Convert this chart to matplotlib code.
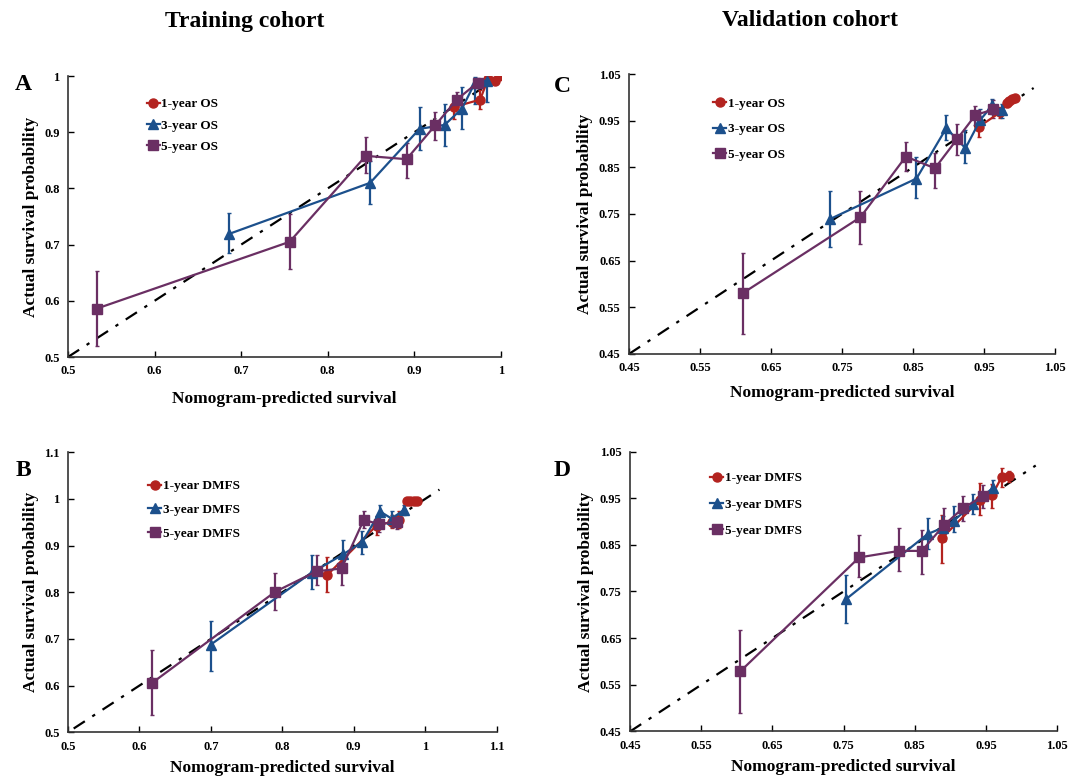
import matplotlib
matplotlib.use('Agg')
import matplotlib.pyplot as plt
import numpy as np

plt.rcParams['font.family'] = ['Liberation Serif', 'DejaVu Serif']
plt.rcParams['font.weight'] = 'bold'

RED = '#b3231f'
BLUE = '#1c508c'
PURPLE = '#6a2f63'

# ---- Panel A: training cohort, OS ----
a1_x = [0.946, 0.976, 0.985, 0.993, 0.998]
a1_y = [0.945, 0.958, 0.994, 0.992, 1.000]
a1_lo = [0.923, 0.941, 0.985, 0.985, 0.996]
a1_hi = [0.963, 0.976, 1.000, 0.998, 1.002]

a3_x = [0.686, 0.849, 0.906, 0.935, 0.955, 0.970, 0.984]
a3_y = [0.719, 0.810, 0.906, 0.913, 0.942, 0.988, 0.992]
a3_lo = [0.685, 0.773, 0.869, 0.875, 0.905, 0.950, 0.954]
a3_hi = [0.757, 0.849, 0.945, 0.951, 0.981, 0.998, 0.998]

a5_x = [0.533, 0.756, 0.844, 0.891, 0.924, 0.949, 0.973]
a5_y = [0.586, 0.705, 0.858, 0.852, 0.912, 0.958, 0.988]
a5_lo = [0.519, 0.656, 0.827, 0.819, 0.887, 0.945, 0.978]
a5_hi = [0.653, 0.754, 0.891, 0.880, 0.936, 0.972, 0.996]

# ---- Panel B: training cohort, DMFS ----
b1_x = [0.863, 0.932, 0.953, 0.964, 0.974, 0.979, 0.984, 0.989]
b1_y = [0.837, 0.943, 0.951, 0.954, 0.995, 0.995, 0.995, 0.995]
b1_lo = [0.800, 0.922, 0.937, 0.937, 0.990, 0.990, 0.990, 0.990]
b1_hi = [0.876, 0.963, 0.965, 0.974, 1.000, 1.000, 1.000, 1.000]

b3_x = [0.700, 0.841, 0.885, 0.912, 0.937, 0.953, 0.970]
b3_y = [0.688, 0.842, 0.881, 0.908, 0.973, 0.958, 0.976]
b3_lo = [0.631, 0.806, 0.850, 0.881, 0.955, 0.940, 0.965]
b3_hi = [0.739, 0.879, 0.913, 0.931, 0.987, 0.975, 0.987]

b5_x = [0.618, 0.790, 0.848, 0.883, 0.914, 0.936, 0.960]
b5_y = [0.606, 0.801, 0.845, 0.851, 0.955, 0.946, 0.951]
b5_lo = [0.537, 0.762, 0.815, 0.816, 0.937, 0.930, 0.936]
b5_hi = [0.677, 0.841, 0.879, 0.883, 0.974, 0.962, 0.966]

# ---- Panel C: validation cohort, OS ----
c1_x = [0.943, 0.973, 0.982, 0.986, 0.990, 0.994]
c1_y = [0.937, 0.968, 0.988, 0.992, 0.996, 0.999]
c1_lo = [0.915, 0.955, 0.980, 0.985, 0.990, 0.994]
c1_hi = [0.955, 0.980, 0.995, 0.998, 1.001, 1.003]

c3_x = [0.733, 0.855, 0.897, 0.924, 0.945, 0.962, 0.976]
c3_y = [0.739, 0.826, 0.934, 0.891, 0.952, 0.983, 0.972]
c3_lo = [0.680, 0.784, 0.909, 0.859, 0.930, 0.965, 0.955]
c3_hi = [0.799, 0.873, 0.962, 0.930, 0.976, 0.996, 0.985]

c5_x = [0.610, 0.776, 0.840, 0.881, 0.912, 0.938, 0.963]
c5_y = [0.580, 0.743, 0.873, 0.848, 0.910, 0.962, 0.974]
c5_lo = [0.493, 0.685, 0.842, 0.806, 0.877, 0.940, 0.955]
c5_hi = [0.667, 0.799, 0.904, 0.880, 0.943, 0.982, 0.994]

# ---- Panel D: validation cohort, DMFS ----
d1_x = [0.888, 0.942, 0.959, 0.972, 0.983]
d1_y = [0.864, 0.947, 0.957, 0.995, 0.997]
d1_lo = [0.812, 0.915, 0.929, 0.975, 0.985]
d1_hi = [0.914, 0.982, 0.981, 1.014, 1.009]

d3_x = [0.753, 0.868, 0.890, 0.905, 0.932, 0.960]
d3_y = [0.733, 0.873, 0.887, 0.902, 0.938, 0.972]
d3_lo = [0.683, 0.840, 0.860, 0.877, 0.917, 0.957]
d3_hi = [0.786, 0.907, 0.912, 0.933, 0.959, 0.989]

d5_x = [0.605, 0.772, 0.828, 0.860, 0.891, 0.918, 0.946]
d5_y = [0.579, 0.823, 0.837, 0.837, 0.892, 0.929, 0.954]
d5_lo = [0.490, 0.781, 0.793, 0.788, 0.858, 0.902, 0.928]
d5_hi = [0.668, 0.872, 0.886, 0.881, 0.929, 0.955, 0.978]


def draw(ax, series, labels, lim, ticks, ref):
    # reference (ideal) line, then the three calibration curves
    ax.plot(ref, ref, color='black', ls=(0, (6, 4, 1.5, 4)), lw=1.6, zorder=1)
    styles = [(RED, 'o'), (BLUE, '^'), (PURPLE, 's')]
    for (x, y, lo, hi), lab, (col, mk) in zip(series, labels, styles):
        x = np.array(x); y = np.array(y)
        err = [y - np.array(lo), np.array(hi) - y]
        ax.errorbar(x, y, yerr=err, color=col, marker=mk, ms=6.5, lw=1.6,
                    elinewidth=1.6, capsize=1.5, label=lab, zorder=3)
    ax.set_xlim(lim)
    ax.set_ylim(lim)
    ax.set_xticks(ticks)
    ax.set_yticks(ticks)
    ax.set_xticklabels(['%g' % round(t, 2) for t in ticks])
    ax.set_yticklabels(['%g' % round(t, 2) for t in ticks])
    ax.spines['top'].set_visible(False)
    ax.spines['right'].set_visible(False)
    for s in ['left', 'bottom']:
        ax.spines[s].set_color('#333333')
        ax.spines[s].set_linewidth(1.2)
    ax.tick_params(direction='in', length=4, width=1, labelsize=9, pad=6)
    for t in ax.get_xticklabels() + ax.get_yticklabels():
        t.set_fontweight('bold')
    ax.set_ylabel('Actual survival probability', fontsize=12.5, fontweight='bold')
    ax.set_xlabel('Nomogram-predicted survival', fontsize=12.5, fontweight='bold')
    handles, labs = ax.get_legend_handles_labels()
    handles = [h[0] for h in handles]
    return handles, labs


fig = plt.figure(figsize=(10.77, 7.79), dpi=100)

axA = fig.add_axes([0.0631, 0.5417, 0.402, 0.3607])
axC = fig.add_axes([0.584, 0.5456, 0.3955, 0.3594])
axB = fig.add_axes([0.0631, 0.0600, 0.398, 0.3594])
axD = fig.add_axes([0.585, 0.0610, 0.3965, 0.3594])

tr_ticks = [0.5, 0.6, 0.7, 0.8, 0.9, 1.0]
trb_ticks = [0.5, 0.6, 0.7, 0.8, 0.9, 1.0, 1.1]
va_ticks = [0.45, 0.55, 0.65, 0.75, 0.85, 0.95, 1.05]

hA, lA = draw(axA, [(a1_x, a1_y, a1_lo, a1_hi), (a3_x, a3_y, a3_lo, a3_hi), (a5_x, a5_y, a5_lo, a5_hi)],
              ['1-year OS', '3-year OS', '5-year OS'], (0.5, 1.0), tr_ticks, [0.5, 0.998])
hB, lB = draw(axB, [(b1_x, b1_y, b1_lo, b1_hi), (b3_x, b3_y, b3_lo, b3_hi), (b5_x, b5_y, b5_lo, b5_hi)],
              ['1-year DMFS', '3-year DMFS', '5-year DMFS'], (0.5, 1.1), trb_ticks, [0.508, 1.02])
hC, lC = draw(axC, [(c1_x, c1_y, c1_lo, c1_hi), (c3_x, c3_y, c3_lo, c3_hi), (c5_x, c5_y, c5_lo, c5_hi)],
              ['1-year OS', '3-year OS', '5-year OS'], (0.45, 1.05), va_ticks, [0.45, 1.02])
hD, lD = draw(axD, [(d1_x, d1_y, d1_lo, d1_hi), (d3_x, d3_y, d3_lo, d3_hi), (d5_x, d5_y, d5_lo, d5_hi)],
              ['1-year DMFS', '3-year DMFS', '5-year DMFS'], (0.45, 1.05), va_ticks, [0.45, 1.02])

leg_kw = dict(frameon=False, handlelength=1.0, handletextpad=0.1,
              prop={'weight': 'bold', 'size': 9.5}, loc='upper left', borderaxespad=0)
axA.legend(hA, lA, bbox_to_anchor=(0.17, 0.94), labelspacing=0.68, **leg_kw)
axB.legend(hB, lB, bbox_to_anchor=(0.175, 0.92), labelspacing=0.88, **leg_kw)
axC.legend(hC, lC, bbox_to_anchor=(0.185, 0.935), labelspacing=1.0, **leg_kw)
axD.legend(hD, lD, bbox_to_anchor=(0.175, 0.945), labelspacing=1.05, **leg_kw)

axA.xaxis.labelpad = 10
axB.xaxis.labelpad = 5
axC.xaxis.labelpad = 8
axD.xaxis.labelpad = 5

fig.text(245 / 1077, 1 - 21 / 779, 'Training cohort', ha='center', va='center',
         fontsize=17, fontweight='bold')
fig.text(810 / 1077, 1 - 21 / 779, 'Validation cohort', ha='center', va='center',
         fontsize=17, fontweight='bold')
for lab, px, py in [('A', 23, 85), ('C', 562, 86), ('B', 23, 470), ('D', 562, 470)]:
    fig.text(px / 1077, 1 - py / 779, lab, ha='center', va='center',
             fontsize=17, fontweight='bold')

fig.savefig('out.png', dpi=100)
